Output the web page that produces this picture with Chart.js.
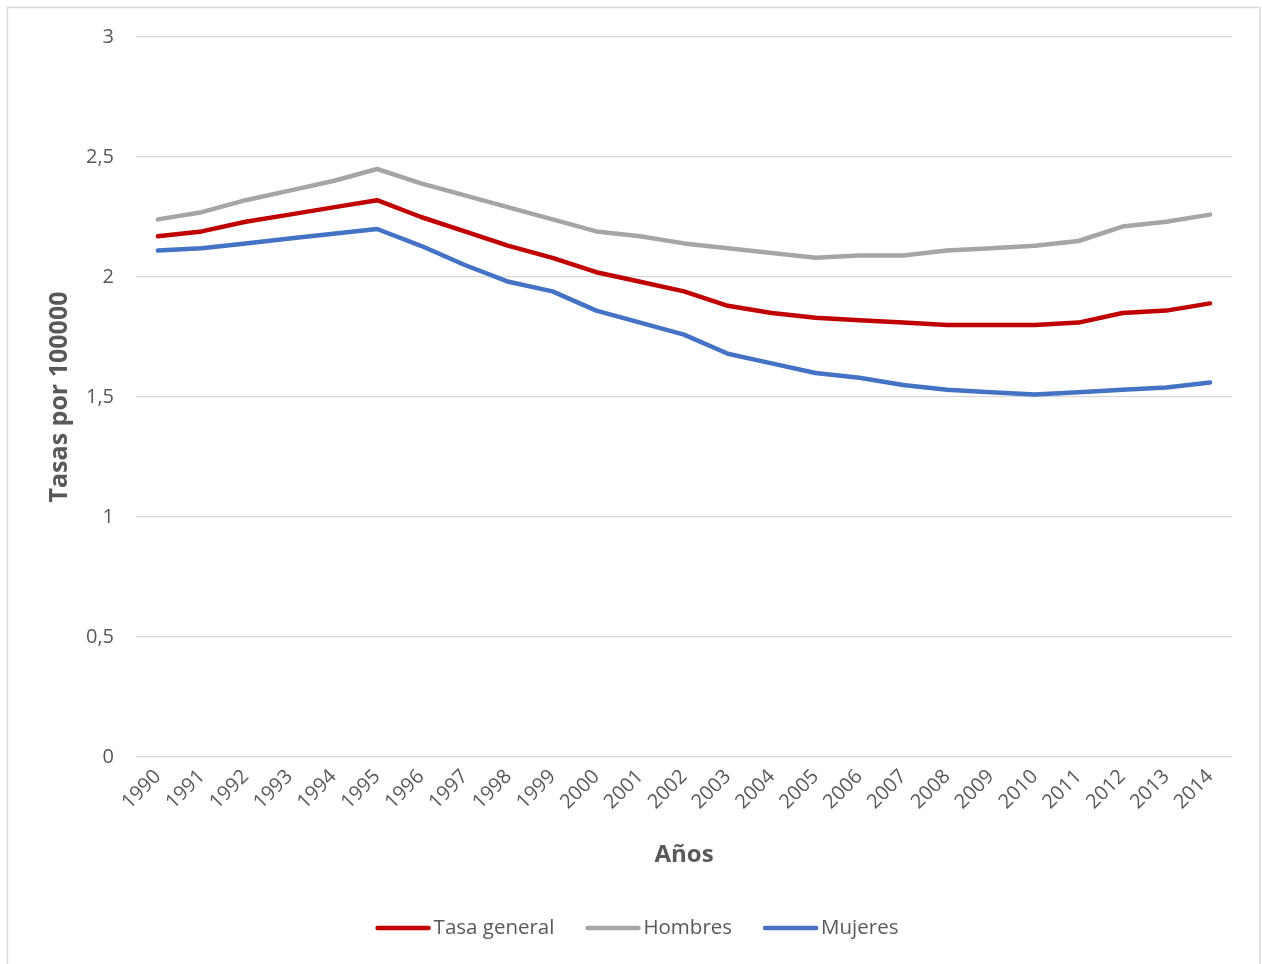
<!DOCTYPE html>
<html lang="es">
<head>
<meta charset="utf-8">
<title>Tasas por 100000</title>
<script src="https://cdn.jsdelivr.net/npm/chart.js@4/dist/chart.umd.min.js"></script>
<style>
  html, body { margin: 0; padding: 0; background: #ffffff; }
  #wrap { position: relative; width: 1262px; height: 964px; }
</style>
</head>
<body>
<div id="wrap"><canvas id="chart" width="1262" height="964"></canvas></div>
<script>
// Años de la serie
const years = ['1990','1991','1992','1993','1994','1995','1996','1997','1998','1999','2000','2001','2002',
               '2003','2004','2005','2006','2007','2008','2009','2010','2011','2012','2013','2014'];

// Tasas por 100000 habitantes
const tasaGeneral = [2.17, 2.19, 2.23, 2.26, 2.29, 2.32, 2.25, 2.19, 2.13, 2.08, 2.02, 1.98, 1.94,
                     1.88, 1.85, 1.83, 1.82, 1.81, 1.80, 1.80, 1.80, 1.81, 1.85, 1.86, 1.89];
const hombres     = [2.24, 2.27, 2.32, 2.36, 2.40, 2.45, 2.39, 2.34, 2.29, 2.24, 2.19, 2.17, 2.14,
                     2.12, 2.10, 2.08, 2.09, 2.09, 2.11, 2.12, 2.13, 2.15, 2.21, 2.23, 2.26];
const mujeres     = [2.11, 2.12, 2.14, 2.16, 2.18, 2.20, 2.13, 2.05, 1.98, 1.94, 1.86, 1.81, 1.76,
                     1.68, 1.64, 1.60, 1.58, 1.55, 1.53, 1.52, 1.51, 1.52, 1.53, 1.54, 1.56];

const seriesNames = ['Tasa general', 'Hombres', 'Mujeres'];
const seriesColors = ['#C00000', '#A5A5A5', '#4472C4'];

const FONT = "'Open Sans', 'Noto Sans', sans-serif";
const TEXT_COLOR = '#595959';

// Fondo blanco y marco gris del gráfico
const frame = {
  id: 'frame',
  beforeDraw(chart) {
    const ctx = chart.ctx;
    ctx.save();
    ctx.fillStyle = '#ffffff';
    ctx.fillRect(0, 0, chart.width, chart.height);
    ctx.strokeStyle = '#d9d9d9';
    ctx.lineWidth = 1.5;
    ctx.strokeRect(7.5, 7.5, 1252.5, 970);
    ctx.restore();
  }
};

// Leyenda inferior: trazo de la serie seguido de su nombre
const bottomLegend = {
  id: 'bottomLegend',
  afterDraw(chart) {
    const ctx = chart.ctx;
    const swatch = 55, gap = 3, itemGap = 31, y = 928;
    ctx.save();
    ctx.font = '20.5px ' + FONT;
    ctx.textBaseline = 'middle';
    const items = chart.data.datasets.map(ds => ({
      label: ds.label, color: ds.borderColor, w: swatch + gap + ctx.measureText(ds.label).width
    }));
    const total = items.reduce((s, it) => s + it.w, 0) + itemGap * (items.length - 1);
    let x = 637 - total / 2;
    items.forEach(it => {
      ctx.strokeStyle = it.color;
      ctx.lineWidth = 4.5;
      ctx.lineCap = 'round';
      ctx.beginPath();
      ctx.moveTo(x + 2, y);
      ctx.lineTo(x + swatch - 2, y);
      ctx.stroke();
      ctx.fillStyle = TEXT_COLOR;
      ctx.textAlign = 'left';
      ctx.fillText(it.label, x + swatch + gap, y);
      x += it.w + itemGap;
    });
    ctx.restore();
  }
};

const seriesData = [tasaGeneral, hombres, mujeres];

new Chart(document.getElementById('chart'), {
  type: 'line',
  data: {
    labels: years,
    datasets: seriesData.map((d, i) => ({
      label: seriesNames[i],
      data: d,
      borderColor: seriesColors[i],
      backgroundColor: seriesColors[i],
      borderWidth: 4.5,
      pointRadius: 0,
      tension: 0,
      fill: false,
      borderCapStyle: 'round',
      borderJoinStyle: 'round'
    }))
  },
  options: {
    responsive: false,
    animation: false,
    layout: { padding: { top: 37, right: 30, bottom: 84, left: 0 } },
    plugins: {
      legend: { display: false },
      tooltip: { enabled: false }
    },
    scales: {
      x: {
        offset: true,
        grid: { display: false, drawTicks: false },
        border: { display: false },
        ticks: {
          color: TEXT_COLOR,
          font: { family: FONT, size: 20 },
          minRotation: 45,
          maxRotation: 45,
          autoSkip: false,
          padding: 8
        },
        title: {
          display: true,
          text: 'Años',
          color: TEXT_COLOR,
          font: { family: FONT, size: 24, weight: 'bold' },
          padding: { top: 0, bottom: 10 }
        },
        afterFit(scale) { scale.height = 123; }
      },
      y: {
        min: 0,
        max: 3,
        grid: { color: '#d9d9d9', lineWidth: 1.2, drawTicks: false },
        border: { display: false },
        ticks: {
          stepSize: 0.5,
          color: TEXT_COLOR,
          font: { family: FONT, size: 20 },
          padding: 22,
          callback: v => String(v).replace('.', ',')
        },
        title: {
          display: true,
          text: 'Tasas por 100000',
          color: TEXT_COLOR,
          font: { family: FONT, size: 25, weight: 'bold' },
          padding: { top: 45, bottom: 0 }
        },
        afterFit(scale) { scale.width = 136; }
      }
    }
  },
  plugins: [frame, bottomLegend]
});
</script>
</body>
</html>
